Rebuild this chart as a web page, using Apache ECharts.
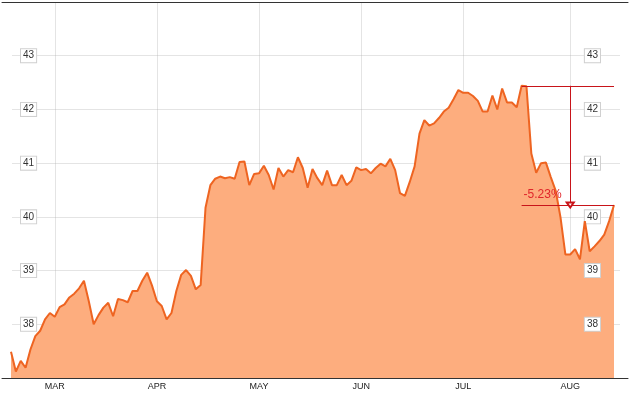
<!DOCTYPE html>
<html>
<head>
<meta charset="utf-8">
<script src="https://cdn.jsdelivr.net/npm/echarts@6/dist/echarts.min.js"></script>
<style>
html,body{margin:0;padding:0;background:#fff;}
#chart{width:635px;height:394px;}
</style>
</head>
<body>
<div id="chart"></div>
<script>
// ---- data ----
const startDate = '2014-02-18';
const endDate = '2014-08-14';
const holidays = ['2014-04-18', '2014-05-26', '2014-07-04'];
const monthNames = ['JAN','FEB','MAR','APR','MAY','JUN','JUL','AUG','SEP','OCT','NOV','DEC'];
const prices = [
  37.49, 37.12, 37.32, 37.19, 37.53, 37.78, 37.88, 38.09, 38.21, 38.14,
  38.32, 38.37, 38.50, 38.57, 38.67, 38.81, 38.43, 38.00, 38.17, 38.31,
  38.40, 38.15, 38.47, 38.45, 38.41, 38.62, 38.62, 38.81, 38.96, 38.72,
  38.43, 38.34, 38.09, 38.21, 38.62, 38.92, 39.01, 38.90, 38.65, 38.73,
  40.17, 40.59, 40.71, 40.75, 40.72, 40.74, 40.71, 41.02, 41.03, 40.59,
  40.80, 40.81, 40.95, 40.78, 40.51, 40.91, 40.75, 40.87, 40.83, 41.11,
  40.91, 40.54, 40.89, 40.72, 40.59, 40.86, 40.59, 40.59, 40.78, 40.59,
  40.67, 40.92, 40.87, 40.89, 40.81, 40.91, 40.99, 40.94, 41.08, 40.87,
  40.44, 40.39, 40.65, 40.94, 41.55, 41.80, 41.70, 41.74, 41.84, 41.96,
  42.03, 42.19, 42.36, 42.31, 42.31, 42.25, 42.16, 41.96, 41.96, 42.26,
  42.00, 42.39, 42.13, 42.13, 42.04, 42.44, 42.43, 41.18, 40.82, 41.00,
  41.01, 40.74, 40.49, 39.99, 39.30, 39.30, 39.40, 39.21, 39.92, 39.36,
  39.45, 39.55, 39.67, 39.92, 40.22
];
const yMin = 37, yMax = 44, yStep = 1;

// trading-day categories
function buildDates(s, e, hol) {
  const out = [];
  const d = new Date(s + 'T00:00:00Z');
  const end = new Date(e + 'T00:00:00Z');
  while (d <= end) {
    const iso = d.toISOString().slice(0, 10);
    const wd = d.getUTCDay();
    if (wd !== 0 && wd !== 6 && hol.indexOf(iso) < 0) out.push(iso);
    d.setUTCDate(d.getUTCDate() + 1);
  }
  return out;
}
const dates = buildDates(startDate, endDate, holidays);
const monthOf = s => parseInt(s.slice(5, 7), 10) - 1;
const isMonthStart = idx => idx > 0 && monthOf(dates[idx]) !== monthOf(dates[idx - 1]);

// peak-to-last drawdown annotation
let peakIdx = 0;
prices.forEach((v, i) => { if (v > prices[peakIdx]) peakIdx = i; });
const lastIdx = prices.length - 1;
const peakVal = prices[peakIdx];
const lastVal = prices[lastIdx];
const midIdx = Math.round((peakIdx + lastIdx) / 2);
const pct = ((lastVal / peakVal - 1) * 100).toFixed(2) + '%';

const FONT = 'Arial, "Liberation Sans", sans-serif';
const gridColor = 'rgba(170,170,170,0.32)';
const redLine = '#c8141a';

const labelBox = {
  inside: true,
  color: '#333',
  fontSize: 10,
  fontFamily: FONT,
  lineHeight: 11,
  backgroundColor: '#fff',
  borderColor: '#d0d0d0',
  borderWidth: 1,
  padding: [1, 2, 1, 2],
  showMinLabel: false,
  showMaxLabel: false
};

const chart = echarts.init(document.getElementById('chart'), null, {renderer: 'canvas'});
chart.setOption({
  animation: false,
  grid: [
    {left: 11, right: 21, top: 2, bottom: 16},
    {left: 12, right: 15, top: 2, bottom: 16},
    {left: 2, right: 7, top: 2, bottom: 16}
  ],
  xAxis: [
    {
      gridIndex: 0, type: 'category', data: dates, boundaryGap: false, z: 3,
      axisLine: {show: false}, axisTick: {show: false},
      axisLabel: {
        interval: (i) => isMonthStart(i),
        formatter: (v) => monthNames[monthOf(v)],
        fontSize: 9, fontFamily: FONT, color: '#222', margin: 4
      },
      splitLine: {show: true, interval: (i) => isMonthStart(i), lineStyle: {color: gridColor, width: 1}}
    },
    {gridIndex: 1, type: 'value', show: false, min: 0, max: 1},
    {
      gridIndex: 2, type: 'value', min: 0, max: 1, position: 'bottom', z: 4,
      axisLine: {show: true, lineStyle: {color: '#333', width: 1}},
      axisTick: {show: false}, axisLabel: {show: false}, splitLine: {show: false}
    },
    {
      gridIndex: 2, type: 'value', min: 0, max: 1, position: 'top', z: 4,
      axisLine: {show: true, lineStyle: {color: '#333', width: 1}},
      axisTick: {show: false}, axisLabel: {show: false}, splitLine: {show: false}
    }
  ],
  yAxis: [
    {gridIndex: 0, type: 'value', min: yMin, max: yMax, interval: yStep, show: false},
    {
      gridIndex: 1, type: 'value', position: 'left', min: yMin, max: yMax, interval: yStep, z: 3,
      axisLine: {show: false}, axisTick: {show: false},
      axisLabel: Object.assign({}, labelBox, {margin: 9}),
      splitLine: {show: true, lineStyle: {color: gridColor, width: 1}}
    },
    {
      gridIndex: 1, type: 'value', position: 'right', min: yMin, max: yMax, interval: yStep, z: 3,
      axisLine: {show: false}, axisTick: {show: false},
      axisLabel: Object.assign({}, labelBox, {margin: 20}),
      splitLine: {show: false}
    },
    {gridIndex: 2, type: 'value', min: 0, max: 1, show: false}
  ],
  series: [{
    type: 'line',
    xAxisIndex: 0, yAxisIndex: 0,
    data: prices,
    showSymbol: false,
    symbol: 'none',
    lineStyle: {color: '#ee6421', width: 2},
    areaStyle: {color: '#fdad7e', opacity: 1},
    markLine: {
      silent: true,
      animation: false,
      symbol: ['none', 'none'],
      label: {show: false},
      lineStyle: {color: redLine, width: 1, type: 'solid'},
      data: [
        [{coord: [peakIdx, peakVal]}, {coord: [lastIdx, peakVal]}],
        [{
          coord: [peakIdx, lastVal],
          label: {
            show: true, position: 'insideStartTop', formatter: '-' === pct[0] ? pct : pct,
            color: '#e0262b', fontSize: 12, fontFamily: FONT, distance: [2, 4]
          }
        }, {coord: [lastIdx, lastVal]}],
        [{coord: [midIdx, peakVal], symbol: 'none'}, {coord: [midIdx, lastVal], symbol: 'emptyTriangle', symbolSize: [7, 5]}]
      ]
    }
  }]
});
</script>
</body>
</html>
